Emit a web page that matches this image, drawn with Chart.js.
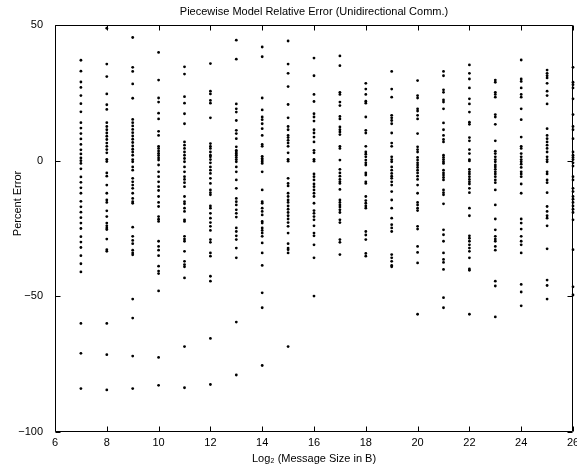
<!DOCTYPE html>
<html>
<head>
<meta charset="utf-8">
<script src="https://cdn.jsdelivr.net/npm/chart.js@4.4.1/dist/chart.umd.min.js"></script>
<style>
  html, body { margin: 0; padding: 0; background: #fff; }
  #wrap { width: 577px; height: 467px; position: relative; }
</style>
</head>
<body>
<div id="wrap"><canvas id="c" width="577" height="467"></canvas></div>
<script>
// ---- Data ----
const chartTitle = 'Piecewise Model Relative Error (Unidirectional Comm.)';
const xAxisLabel = 'Log\u2082 (Message Size in B)';
const yAxisLabel = 'Percent Error';
const xTickValues = [6, 8, 10, 12, 14, 16, 18, 20, 22, 24, 26];
const yTickValues = [-100, -50, 0, 50];
const messageSizesLog2 = [7, 8, 9, 10, 11, 12, 13, 14, 15, 16, 17, 18, 19, 20, 21, 22, 23, 24, 25, 26];

const col07 = [37, 33, 29, 27, 24, 21, 18, 14, 12, 10, 8, 6, 4, 2.5, 1, 0, -1, -3, -6, -8, -10, -12, -15, -17, -19, -21, -23, -25, -28, -30, -32, -35, -38, -41, -60, -71, -84];
const col08 = [48.8, 35.6, 31.0, 24.6, 20.6, 18.9, 14.0, 12.6, 11.4, 10.2, 9.0, 7.8, 6.5, 5.3, 4.1, 2.9, 0.5, -0.3, -4.5, -5.7, -9.0, -12.0, -14.5, -15.4, -18.5, -20.6, -23.0, -24.0, -24.8, -25.4, -28.9, -32.8, -33.4, -60.0, -71.5, -84.5];
const col09 = [45.4, 34.4, 32.9, 28.3, 23.0, 15.2, 14.0, 12.8, 11.5, 10.3, 9.1, 7.9, 6.7, 5.4, 4.2, 3.2, 2.0, 0.4, -0.4, -2.3, -3.5, -6.5, -7.8, -9.0, -10.2, -12.0, -13.9, -15.1, -15.7, -24.5, -27.9, -29.4, -30.6, -33.0, -34.0, -34.7, -51.0, -58.0, -72.0, -84.0];
const col10 = [39.9, 29.7, 23.1, 21.6, 17.5, 15.4, 10.8, 9.3, 5.3, 4.5, 3.6, 2.7, 1.9, 1.0, 0.2, -1.6, -4.1, -5.9, -7.8, -9.6, -11.0, -13.2, -15.4, -16.9, -20.6, -21.6, -22.4, -29.7, -31.6, -33.0, -35.0, -38.9, -40.7, -41.6, -48.0, -72.5, -82.8];
const col11 = [34.6, 31.9, 23.6, 21.2, 17.3, 13.6, 6.9, 5.7, 4.5, 3.2, 2.0, 0.8, -0.4, -2.3, -4.1, -5.9, -6.9, -8.1, -9.6, -13.2, -15.1, -15.9, -17.5, -18.7, -21.8, -22.4, -27.9, -28.9, -29.7, -33.4, -37.1, -38.3, -39.1, -43.2, -68.5, -83.7];
const col12 = [35.8, 25.6, 24.6, 22.2, 21.2, 15.8, 6.3, 5.3, 4.5, 3.2, 2.0, 1.4, 0.4, -0.8, -2.3, -3.5, -4.7, -6.5, -8.4, -10.8, -11.8, -12.6, -16.7, -17.5, -19.4, -21.2, -22.8, -24.2, -25.7, -29.1, -30.1, -34.0, -35.2, -42.6, -44.4, -65.5, -82.5];
const col13 = [44.4, 37.4, 20.9, 19.1, 17.9, 14.8, 11.2, 10.0, 8.1, 5.1, 3.8, 3.2, 2.6, 2.0, 1.2, 0.4, -0.4, -2.3, -4.1, -7.1, -10.2, -13.9, -15.1, -16.3, -18.1, -19.4, -20.8, -24.8, -26.1, -27.7, -29.1, -32.2, -35.8, -59.5, -79.0];
const col14 = [41.9, 38.3, 23.1, 18.7, 16.1, 15.1, 13.6, 11.8, 9.3, 6.0, 5.3, 1.6, 0.8, 0.2, -0.4, -1.0, -4.1, -10.8, -15.1, -15.7, -17.5, -18.7, -20.0, -22.4, -23.0, -24.8, -25.7, -26.7, -27.9, -30.3, -34.0, -38.6, -48.7, -54.2, -75.5];
const col15 = [44.1, 35.6, 32.2, 27.3, 20.7, 15.8, 12.6, 11.4, 9.3, 8.5, 7.5, 6.5, 5.3, 2.9, 0.5, -0.2, -6.5, -8.4, -9.3, -12.0, -13.2, -14.5, -15.4, -16.7, -17.9, -19.1, -20.3, -21.5, -22.8, -24.2, -26.7, -30.6, -32.2, -32.8, -34.0, -68.5];
const col16 = [37.8, 31.3, 24.4, 21.8, 17.3, 16.1, 14.6, 11.4, 10.2, 8.7, 6.9, 3.8, 2.9, 0.5, -0.2, -4.9, -5.9, -7.1, -8.6, -9.6, -10.8, -12.0, -13.2, -15.7, -18.4, -19.4, -20.6, -21.8, -24.0, -26.7, -27.7, -31.0, -35.8, -49.9];
const col17 = [38.6, 35.0, 25.2, 24.4, 21.6, 20.3, 16.3, 15.4, 12.4, 11.4, 10.6, 9.6, 5.3, 4.5, 0.2, -3.2, -4.5, -5.7, -6.9, -7.8, -8.4, -10.6, -14.5, -15.4, -16.3, -17.1, -18.1, -19.1, -21.8, -22.8, -29.1, -30.1, -34.6];
const col18 = [28.5, 26.4, 24.4, 21.9, 21.2, 16.1, 11.2, 10.2, 5.3, 3.2, 2.4, 1.4, 0.2, -0.8, -1.6, -4.5, -5.3, -7.8, -8.4, -13.2, -14.7, -15.7, -16.7, -17.5, -26.1, -27.4, -29.1, -34.2, -35.2];
const col19 = [32.9, 26.4, 23.4, 16.7, 15.8, 14.8, 13.6, 10.2, 6.5, 5.3, 1.4, 0.4, -0.4, -2.3, -3.5, -4.7, -5.7, -6.5, -7.8, -9.0, -11.4, -14.5, -17.5, -21.2, -23.6, -24.8, -26.1, -34.6, -35.8, -37.1, -38.6, -39.1];
const col20 = [29.5, 24.0, 23.1, 19.1, 18.3, 16.7, 15.4, 10.0, 5.1, 4.1, 3.2, 1.2, 0.2, -0.8, -1.6, -2.5, -3.5, -4.5, -5.7, -6.9, -9.0, -12.0, -15.4, -16.3, -17.5, -18.4, -24.2, -25.2, -31.6, -33.8, -37.7, -56.6];
const col21 = [32.9, 31.3, 26.1, 25.2, 22.4, 21.6, 19.1, 13.9, 11.4, 9.3, 7.8, 6.9, 2.0, 1.2, 0.4, -0.4, -1.0, -3.5, -4.5, -5.3, -6.2, -7.1, -10.8, -11.8, -12.6, -15.9, -25.5, -27.3, -29.7, -34.0, -36.4, -37.5, -40.1, -50.5, -54.2];
const col22 = [35.3, 32.2, 30.1, 26.8, 22.8, 20.9, 17.9, 14.2, 13.4, 8.5, 7.3, 4.1, 2.6, 0.4, -0.1, -3.2, -4.1, -4.9, -5.9, -6.9, -7.8, -8.6, -10.2, -11.8, -17.5, -20.3, -27.7, -28.6, -29.7, -31.0, -32.2, -33.4, -35.8, -39.9, -40.4, -56.6];
const col23 = [29.7, 28.9, 25.2, 24.4, 23.4, 17.0, 16.1, 13.4, 7.3, 3.5, 2.6, 1.4, 0.4, -0.4, -1.6, -2.3, -3.2, -4.1, -4.9, -5.9, -7.1, -8.1, -10.8, -16.3, -21.5, -25.5, -27.9, -28.9, -29.7, -31.6, -33.0, -44.4, -46.2, -57.6];
const col24 = [37.1, 30.1, 29.2, 26.8, 24.4, 23.4, 19.1, 15.1, 8.7, 5.3, 4.5, 2.6, 1.4, 0.4, -0.4, -1.3, -2.5, -4.1, -4.9, -5.9, -8.6, -12.0, -21.5, -23.0, -25.2, -27.9, -29.7, -31.0, -34.0, -45.6, -48.4, -53.5];
const col25 = [33.4, 32.2, 31.3, 30.5, 28.5, 25.6, 24.0, 20.9, 11.8, 9.3, 8.1, 6.9, 5.7, 4.5, 3.2, 1.4, 0.4, -0.4, -4.1, -4.9, -7.1, -8.1, -11.8, -16.9, -18.7, -20.3, -21.2, -24.0, -32.5, -44.0, -46.0, -51.0];
const col26 = [34.4, 28.9, 28.0, 26.8, 22.8, 17.0, 12.6, 11.4, 8.1, 3.2, 2.0, 1.2, 0.4, -0.8, -2.0, -5.9, -7.1, -10.2, -11.4, -13.2, -14.2, -15.4, -16.7, -17.9, -19.1, -21.8, -32.8, -46.5, -49.5];

const errorColumns = [col07, col08, col09, col10, col11, col12, col13, col14, col15, col16,
                      col17, col18, col19, col20, col21, col22, col23, col24, col25, col26];

// Build scatter points from the arrays
const points = [];
messageSizesLog2.forEach((xv, i) => {
  errorColumns[i].forEach(yv => points.push({ x: xv, y: yv }));
});

const FONT = "'Liberation Sans', Arial, Helvetica, sans-serif";
const fmtMinus = v => (v < 0 ? '\u2212' + Math.abs(v) : String(v));

// Shift the y-axis title up a little (drawn by Chart.js itself)
const yTitleShift = {
  id: 'yTitleShift',
  beforeDraw(chart) {
    const s = chart.scales.y;
    if (s && !s.__shifted) {
      const orig = s.drawTitle.bind(s);
      s.drawTitle = function () {
        const b = this.bottom;
        this.bottom = b - 50;
        orig();
        this.bottom = b;
      };
      s.__shifted = true;
    }
  }
};

// Box + inward tick marks (MATLAB style)
const boxPlugin = {
  id: 'matlabBox',
  afterDraw(chart) {
    const { ctx, chartArea, scales } = chart;
    const L = Math.round(chartArea.left) + 0.5;
    const R = Math.round(chartArea.right) - 0.5;
    const T = Math.round(chartArea.top) + 0.5;
    const B = Math.round(chartArea.bottom) - 0.5;
    ctx.save();
    ctx.strokeStyle = '#000';
    ctx.lineWidth = 1;
    ctx.beginPath();
    ctx.moveTo(L, T); ctx.lineTo(R, T); ctx.lineTo(R, B); ctx.lineTo(L, B); ctx.closePath();
    const tl = 5;
    xTickValues.forEach(v => {
      const px = Math.round(scales.x.getPixelForValue(v)) + 0.5;
      ctx.moveTo(px, B); ctx.lineTo(px, B - tl);
      ctx.moveTo(px, T); ctx.lineTo(px, T + tl);
    });
    yTickValues.forEach(v => {
      const py = Math.round(scales.y.getPixelForValue(v)) + 0.5;
      ctx.moveTo(L, py); ctx.lineTo(L + tl, py);
      ctx.moveTo(R, py); ctx.lineTo(R - tl, py);
    });
    ctx.stroke();
    ctx.restore();
  }
};

new Chart(document.getElementById('c'), {
  type: 'scatter',
  data: {
    datasets: [{
      label: 'Relative error',
      data: points,
      backgroundColor: '#000',
      borderColor: '#000',
      borderWidth: 0,
      pointRadius: 1.4,
      pointHoverRadius: 1.4,
      pointStyle: 'circle',
      clip: false
    }]
  },
  plugins: [yTitleShift, boxPlugin],
  options: {
    responsive: false,
    animation: false,
    events: [],
    layout: { padding: { left: 0, right: 4, top: 0, bottom: 0 } },
    plugins: { legend: { display: false }, tooltip: { enabled: false }, title: { display: false } },
    scales: {
      x: {
        type: 'linear', position: 'bottom', min: 6, max: 26,
        grid: { display: false }, border: { display: false },
        afterBuildTicks: s => { s.ticks = xTickValues.map(v => ({ value: v })); },
        ticks: { color: '#000', font: { family: FONT, size: 11 }, padding: -4, maxRotation: 0, autoSkip: false },
        title: { display: true, text: xAxisLabel, color: '#000', font: { family: FONT, size: 11 }, padding: { top: 0, bottom: 1 } },
        afterFit: s => { s.height = 35; s.paddingLeft = 0; s.paddingRight = 0; }
      },
      x2: {
        type: 'linear', position: 'top', min: 6, max: 26, display: true,
        grid: { display: false }, border: { display: false },
        ticks: { display: false },
        title: { display: true, text: chartTitle, color: '#000', font: { family: FONT, size: 11 }, padding: { top: 5, bottom: 0 } },
        afterFit: s => { s.height = 25; s.paddingLeft = 0; s.paddingRight = 0; }
      },
      y: {
        type: 'linear', position: 'left', min: -100, max: 50,
        grid: { display: false }, border: { display: false },
        afterBuildTicks: s => { s.ticks = yTickValues.map(v => ({ value: v })); },
        ticks: { color: '#000', font: { family: FONT, size: 11 }, padding: 4, callback: v => fmtMinus(v) },
        title: { display: true, text: yAxisLabel, color: '#000', font: { family: FONT, size: 11 }, padding: { top: 11, bottom: 0 } },
        afterFit: s => { s.width = 55; s.paddingTop = 0; s.paddingBottom = 0; }
      }
    }
  }
});
</script>
</body>
</html>
